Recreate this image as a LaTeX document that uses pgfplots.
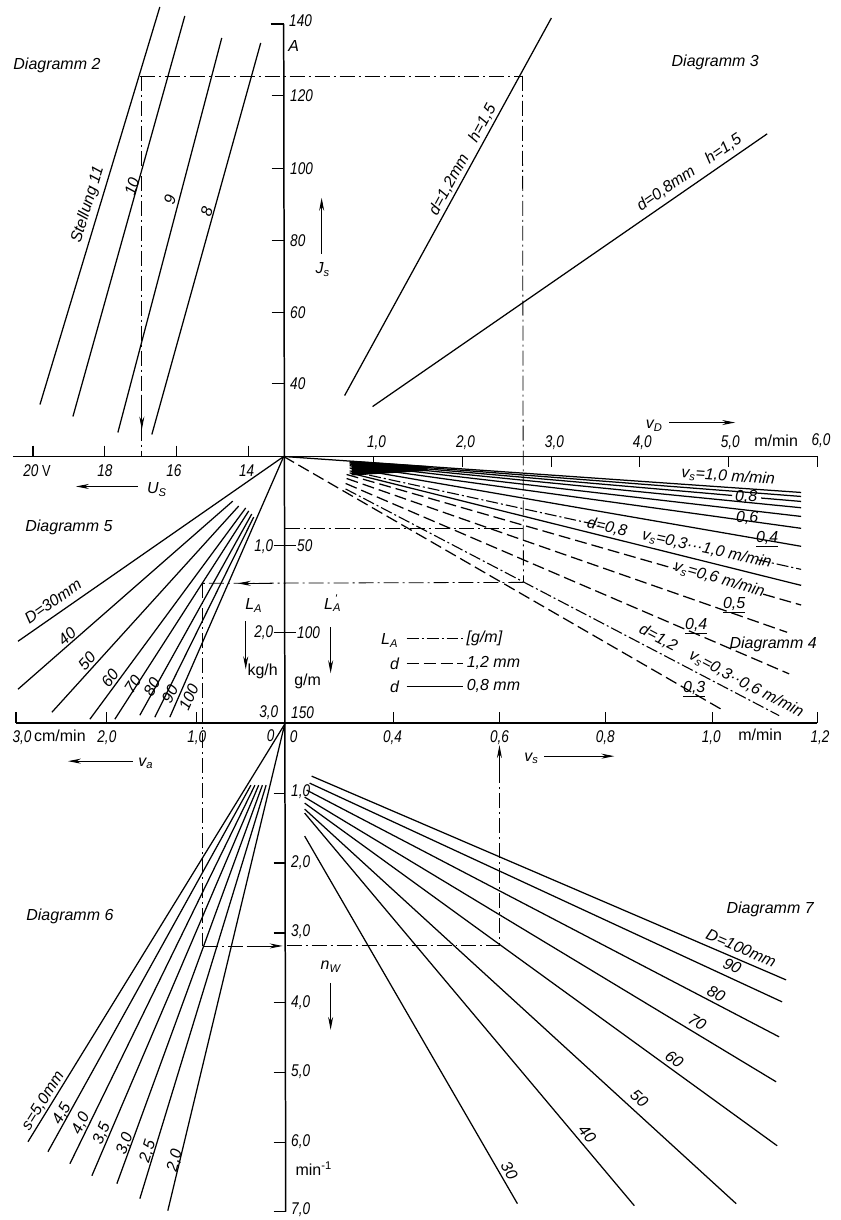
\documentclass[border=0pt]{standalone}
\usepackage{fontspec}
\setmainfont{Liberation Sans}
\newfontfamily\cf{Liberation Sans}[FakeStretch=0.8]
\usepackage{pgfplots}
\pgfplotsset{compat=1.18}
\usetikzlibrary{arrows.meta}
\newcommand\T{\fontsize{16}{18}\selectfont\itshape}
\newcommand\U{\fontsize{16}{18}\selectfont\upshape}
\newcommand\N{\fontsize{17}{19}\selectfont\cf\itshape}
\newcommand\sub[1]{\textsubscript{#1}}
\begin{document}
\begin{tikzpicture}[
  ax/.style={line width=1.5pt},
  tk/.style={line width=1.2pt},
  ln/.style={line width=1.25pt},
  dsh/.style={line width=1.25pt, dash pattern=on 12pt off 5pt},
  dd/.style={line width=1.1pt, dash pattern=on 12pt off 3pt on 2pt off 3pt},
  hl/.style={line width=0.8pt, dash pattern=on 15pt off 4pt on 2pt off 4pt},
  arr/.style={line width=0.9pt,-{Stealth[length=13pt,width=5pt]}},
]
\begin{axis}[scale only axis, width=841pt, height=1220pt,
  xmin=0, xmax=841, ymin=0, ymax=1220, y dir=reverse,
  hide axis, clip=false, no markers, unbounded coords=jump]
\addplot[draw=none] coordinates {(0,0) (841,1220)};

% ---------------- main axes ----------------
\addplot[ax] coordinates {(284,24) (286,1213)};
\addplot[ax] coordinates {(13,457) (818,457)};
\addplot[ax] coordinates {(16,724) (818,724)};

% ticks
\addplot[tk] coordinates {
 (271,24)(284,24) (nan,nan) (272,96)(284,96) (nan,nan) (272,169)(284,169) (nan,nan)
 (272,241)(284,241) (nan,nan) (272,313)(284,313) (nan,nan) (272,384)(284,384) (nan,nan)
 (274,546)(296,546) (nan,nan) (274,633)(296,633) (nan,nan)
 (274,794)(285,794) (nan,nan) (274,864)(285,864) (nan,nan) (274,934)(285,934) (nan,nan)
 (274,1004)(286,1004) (nan,nan) (274,1074)(286,1074) (nan,nan) (274,1144)(286,1144) (nan,nan)
 (274,1213)(286,1213) (nan,nan)
 (33,446)(33,457) (nan,nan) (105,446)(105,457) (nan,nan) (177,446)(177,457) (nan,nan) (249,446)(249,457) (nan,nan)
 (374,457)(374,468) (nan,nan) (463,457)(463,468) (nan,nan) (552,457)(552,468) (nan,nan)
 (640,457)(640,468) (nan,nan) (729,457)(729,468) (nan,nan) (818,457)(818,468) (nan,nan)
 (16,713)(16,724) (nan,nan) (107,713)(107,724) (nan,nan) (197,713)(197,724) (nan,nan)
 (394,713)(394,724) (nan,nan) (500,713)(500,724) (nan,nan) (606,713)(606,724) (nan,nan)
 (713,713)(713,724) (nan,nan) (818,713)(818,724)
};

% central scale labels
\node[anchor=west] at (286,21) {\N 140};
\node at (294,46) {\T A};
\foreach \v/\y in {120/96,100/169,80/241,60/313,40/384}{
  \edef\tmp{\noexpand\node[anchor=west] at (287,\y) {\noexpand\N \v};}\tmp}
\node[anchor=east] at (277,547) {\N 1,0};
\node[anchor=west] at (294,546) {\N 50};
\node[anchor=east] at (277,633) {\N 2,0};
\node[anchor=west] at (294,633) {\N 100};
\node[anchor=east] at (282,713) {\N 3,0};
\node[anchor=west] at (288,713) {\N 150};
\foreach \v/\y in {1/793,2/864,3/933,4/1004,5/1073,6/1143,7/1211}{
  \edef\tmp{\noexpand\node[anchor=west] at (288,\y) {\noexpand\N \v,0};}\tmp}
\node at (314,1170) {\U min\textsuperscript{-1}};

% axis quantity labels and arrows
\addplot[arr] coordinates {(322,254) (322,198)};
\node at (323,270) {\T J\sub{s}};
\addplot[arr] coordinates {(246,622) (246,670)};
\node at (254,606) {\T L\sub{A}};
\node at (263,672) {\U kg/h};
\addplot[arr] coordinates {(331,628) (331,674)};
\node at (333,604) {\T L\rlap{\textsuperscript{\,\textquotesingle}}\sub{A}};
\node at (308,682) {\U g/m};
\addplot[arr] coordinates {(331,984) (331,1031)};
\node at (331,968) {\T n\sub{W}};

% top axis labels
\node at (37,471) {\N 20 \U V};
\node at (105,471) {\N 18};
\node at (174,471) {\N 16};
\node at (247,471) {\N 14};
\addplot[arr] coordinates {(138,487) (76,487)};
\node at (157,490) {\T U\sub{S}};
\node at (377,443) {\N 1,0};
\node at (466,443) {\N 2,0};
\node at (555,443) {\N 3,0};
\node at (643,443) {\N 4,0};
\node at (731,443) {\N 5,0};
\node at (777,441) {\U m/min};
\node at (822,441) {\N 6,0};
\addplot[arr] coordinates {(670,423) (736,423)};
\node at (655,426) {\T v\sub{D}};

% lower axis labels
\node at (22,738) {\N 3,0};
\node at (60,737) {\U cm/min};
\node at (107,738) {\N 2,0};
\node at (197,738) {\N 1,0};
\node at (271,736) {\N 0};
\node at (294,737) {\N 0};
\node at (393,738) {\N 0,4};
\node at (500,738) {\N 0,6};
\node at (606,738) {\N 0,8};
\node at (712,738) {\N 1,0};
\node at (761,736) {\U m/min};
\node at (821,738) {\N 1,2};
\addplot[arr] coordinates {(133,762) (68,762)};
\node at (146,764) {\T v\sub{a}};
\addplot[arr] coordinates {(545,757) (615,757)};
\node at (532,759) {\T v\sub{s}};

% ---------------- Diagramm 2 ----------------
\addplot[ln] coordinates {(160,7) (40,405)};
\addplot[ln] coordinates {(185,16) (73,417)};
\addplot[ln] coordinates {(222,38) (118,433)};
\addplot[ln] coordinates {(261,43) (152,435)};
\node[rotate=73] at (88,205) {\T Stellung 11};
\node[rotate=73] at (132,187) {\T 10};
\node[rotate=73] at (170,200) {\T 9};
\node[rotate=73] at (207,212) {\T 8};
\node at (57,65) {\T Diagramm 2};

% ---------------- Diagramm 3 ----------------
\addplot[ln] coordinates {(345,396) (552,18)};
\addplot[ln] coordinates {(373,407) (768,134)};
\node[rotate=61.3] at (463,160) {\T d=1,2mm\quad h=1,5};
\node[rotate=34.6] at (690,173) {\T d=0,8mm\quad h=1,5};
\node at (716,62) {\T Diagramm 3};

% ---------------- Diagramm 4 ----------------
\addplot[fill=black, draw=none] coordinates {(352,461.3) (428,466.5) (428,471.5) (352,476)} -- cycle;
\addplot[ln] coordinates {(284,457) (802,493)};
\addplot[ln] coordinates {(350,462.1) (802,497)};
\addplot[ln] coordinates {(350,462.7) (733,496) (nan,nan) (762,498.6) (802,502)};
\addplot[ln] coordinates {(350,463.5) (802,508.3)};
\addplot[ln] coordinates {(350,464.6) (802,517)};
\addplot[ln] coordinates {(350,466.2) (802,528.9)};
\addplot[ln] coordinates {(350,468.5) (802,546.9)};
\addplot[ln] coordinates {(350,473.4) (802,586)};
\addplot[dd] coordinates {(350,471.4) (600,525.9) (nan,nan) (758,560.3) (802,570)};
\addplot[dsh] coordinates {(347,475) (676,569.5) (nan,nan) (764,594.8) (802,605.7)};
\addplot[dsh] coordinates {(347,479) (788,633)};
\addplot[dsh] coordinates {(346,484) (790,674.6)};
\addplot[dsh] coordinates {(284,457) (722,710)};
\addplot[dd] coordinates {(346,489.5) (780,716.4)};
\node[rotate=-4] at (729,477) {\T v\sub{s}=1,0 m/min};
\node at (747,497) {\T 0,8};
\node at (748,519) {\T 0,6};
\node at (768,540) {\T \underline{0,4}};
\node[rotate=-12.3] at (680,544) {\T d=0,8\quad v\sub{s}=0,3···1,0 m/min};
\node[rotate=-16] at (720,580) {\T v\sub{s}=0,6 m/min};
\node at (735,606) {\T \underline{0,5}};
\node at (697,627) {\T \underline{0,4}};
\node[rotate=-27.6] at (722,672) {\T d=1,2\quad v\sub{s}=0,3··0,6 m/min};
\node at (695,690) {\T \underline{0,3}};
\node at (774,645) {\T Diagramm 4};

% legend
\addplot[dd] coordinates {(407,639) (464,639)};
\addplot[dsh] coordinates {(407,664) (464,664)};
\addplot[ln] coordinates {(407,687) (464,687)};
\node at (390,641) {\T L\sub{A}};
\node at (395,665) {\T d};
\node at (395,688) {\T d};
\node at (485,639) {\T [g/m]};
\node at (494,664) {\T 1,2 mm};
\node at (494,687) {\T 0,8 mm};

% ---------------- Diagramm 5 ----------------
\addplot[ln] coordinates {(284,457) (18,642)};
\addplot[ln] coordinates {(233,501.7) (18,690)};
\addplot[ln] coordinates {(239,506.6) (52,713)};
\addplot[ln] coordinates {(246,508.5) (90,720)};
\addplot[ln] coordinates {(249,511.5) (115,720)};
\addplot[ln] coordinates {(252,514.6) (140,716)};
\addplot[ln] coordinates {(254,517.6) (155,718)};
\addplot[ln] coordinates {(284,457) (170,718)};
\node[rotate=35] at (53,602) {\T D=30mm};
\node[rotate=41] at (67,637) {\T 40};
\node[rotate=48] at (87,662) {\T 50};
\node[rotate=54] at (110,679) {\T 60};
\node[rotate=57] at (133,685) {\T 70};
\node[rotate=61] at (152,688) {\T 80};
\node[rotate=64] at (170,695) {\T 90};
\node[rotate=66] at (189,698) {\T 100};
\node at (69,528) {\T Diagramm 5};

% ---------------- Diagramm 6 ----------------
\addplot[ln] coordinates {(285,725) (28,1143)};
\addplot[ln] coordinates {(251.2,786) (48,1153)};
\addplot[ln] coordinates {(255.2,786) (70,1165)};
\addplot[ln] coordinates {(259,786) (92,1177)};
\addplot[ln] coordinates {(262.7,786) (117,1185)};
\addplot[ln] coordinates {(266.4,786) (140,1200)};
\addplot[ln] coordinates {(285,725) (168,1212)};
\node[rotate=58] at (43,1102) {\T s=5,0mm};
\node[rotate=61] at (62,1115) {\T 4,5};
\node[rotate=64] at (81,1125) {\T 4,0};
\node[rotate=67] at (102,1135) {\T 3,5};
\node[rotate=70] at (125,1145) {\T 3,0};
\node[rotate=73] at (148,1153) {\T 2,5};
\node[rotate=76] at (175,1162) {\T 2,0};
\node at (70,917) {\T Diagramm 6};

% ---------------- Diagramm 7 ----------------
\addplot[ln] coordinates {(312,777) (787,981)};
\addplot[ln] coordinates {(310,784) (783,1003)};
\addplot[ln] coordinates {(307,791) (780,1038)};
\addplot[ln] coordinates {(305,798) (777,1083)};
\addplot[ln] coordinates {(305,804) (778,1147)};
\addplot[ln] coordinates {(305,810) (737,1205)};
\addplot[ln] coordinates {(305,814) (635,1207)};
\addplot[ln] coordinates {(305,837) (518,1205)};
\node[rotate=-23] at (742,949) {\T D=100mm};
\node[rotate=-25] at (733,967) {\T 90};
\node[rotate=-28] at (717,995) {\T 80};
\node[rotate=-31] at (698,1023) {\T 70};
\node[rotate=-36] at (675,1060) {\T 60};
\node[rotate=-42] at (640,1100) {\T 50};
\node[rotate=-50] at (588,1135) {\T 40};
\node[rotate=-60] at (510,1172) {\T 30};
\node at (771,910) {\T Diagramm 7};

% ---------------- reading lines ----------------
\addplot[hl] coordinates {(140,76) (523,76)};
\addplot[hl] coordinates {(142,76) (142,457)};
\addplot[arr] coordinates {(142,395) (142,430)};
\addplot[hl] coordinates {(523,76) (524,583)};
\addplot[hl] coordinates {(524,583) (203,584)};
\addplot[arr] coordinates {(272,584) (238,584)};
\addplot[hl] coordinates {(285,529) (524,529)};
\addplot[hl] coordinates {(203,584) (203,947)};
\addplot[hl] coordinates {(203,947) (250,947)};
\addplot[arr] coordinates {(248,947) (283,947)};
\addplot[hl] coordinates {(287,946) (500,946) (500,780)};
\addplot[arr] coordinates {(500,782) (500,746)};
\end{axis}
\end{tikzpicture}
\end{document}
